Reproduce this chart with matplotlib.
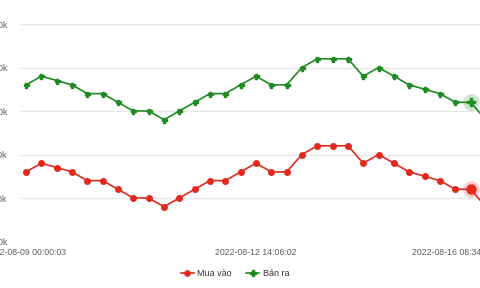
import matplotlib
matplotlib.use("Agg")
import matplotlib.pyplot as plt
from matplotlib.lines import Line2D

# Data
mua_vao = [66300, 66400, 66350, 66300, 66200, 66200, 66100, 66000, 66000, 65900,
           66000, 66100, 66200, 66200, 66300, 66400, 66300, 66300, 66500, 66600,
           66600, 66600, 66400, 66500, 66400, 66300, 66250, 66200, 66100, 66100,
           65900]
ban_ra = [67300, 67400, 67350, 67300, 67200, 67200, 67100, 67000, 67000, 66900,
          67000, 67100, 67200, 67200, 67300, 67400, 67300, 67300, 67500, 67600,
          67600, 67600, 67400, 67500, 67400, 67300, 67250, 67200, 67100, 67100,
          66900]
series_names = ["Mua vào", "Bán ra"]
x_tick_labels = ["2022-08-09 00:00:03", "2022-08-12 14:06:02", "2022-08-16 08:34:11"]
x_tick_index = [0, 15, 27.8]
y_ticks = [65500, 66000, 66500, 67000, 67500, 68000]
highlight_index = 29

RED = "#e2291e"
GREEN = "#1f8a22"
TXT = "#5f5f5f"

plt.rcParams['font.family'] = ['Liberation Sans', 'DejaVu Sans']

fig = plt.figure(figsize=(4.8, 2.88), dpi=100)
ax = fig.add_axes([20/480, (288-241.5)/288, 1 - 20/480, (241.5-24)/288])

x = list(range(len(mua_vao)))
ax.plot(x, ban_ra, color=GREEN, lw=1.2, marker='P', ms=3.6, mec=GREEN, mfc=GREEN, zorder=3)
ax.plot(x, mua_vao, color=RED, lw=1.2, marker='o', ms=4.0, mec=RED, mfc=RED, zorder=3)

# hover highlight
h = highlight_index
ax.plot([h], [ban_ra[h]], marker='o', ms=12, color=GREEN, alpha=0.22, mec='none', zorder=2)
ax.plot([h], [ban_ra[h]], marker='P', ms=5.5, color=GREEN, zorder=4)
ax.plot([h], [mua_vao[h]], marker='o', ms=12, color=RED, alpha=0.22, mec='none', zorder=2)
ax.plot([h], [mua_vao[h]], marker='o', ms=6.5, color=RED, zorder=4)

ax.set_xlim(-6/15.33, (480-26)/15.33)
ax.set_ylim(y_ticks[0], y_ticks[-1])
ax.set_yticks(y_ticks)
ax.set_yticklabels([f"{v:,}k" for v in y_ticks])
ax.set_xticks(x_tick_index)
ax.set_xticklabels(x_tick_labels)
ax.tick_params(axis='both', length=0, labelsize=6.3, colors=TXT)
ax.tick_params(axis='y', pad=9)
ax.tick_params(axis='x', pad=5)
ax.grid(axis='y', color='#e6e6e6', lw=1)
ax.set_axisbelow(True)
for s in ax.spines.values():
    s.set_visible(False)

handles = [Line2D([], [], color=RED, lw=1.2, marker='o', ms=3.8),
           Line2D([], [], color=GREEN, lw=1.2, marker='P', ms=3.8)]
fig.legend(handles, series_names, loc='center', bbox_to_anchor=(235/480, (288-274)/288),
           ncol=2, frameon=False, fontsize=6.5, handlelength=1.4, handletextpad=0.4,
           columnspacing=1.6, labelcolor='#333333')

fig.savefig("out.png", dpi=100)
